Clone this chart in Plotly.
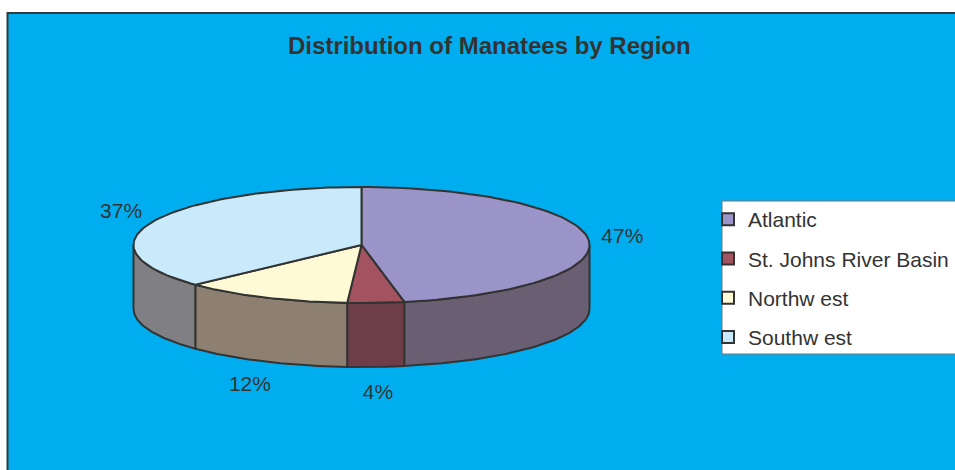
import math
import plotly.graph_objects as go

# ---- data ----
regions = ["Atlantic", "St. Johns River Basin", "Northw est", "Southw est"]
shares = [47, 4, 12, 37]
labels = ["47%", "4%", "12%", "37%"]
top_colors = ["#9A94C8", "#A3535F", "#FFFAD6", "#C8EAFA"]
side_colors = ["#6A5E72", "#6E3E48", "#8D8070", "#808084"]
title = "Distribution of Manatees by Region"

# ---- geometry of the 3-D pie (pixel space) ----
cx, cy, rx, ry, depth = 361.5, 245.0, 228.0, 58.0, 64.0
EDGE = "#333333"
FONT = "Liberation Sans, Arial, sans-serif"


def pt(theta, dy=0.0):
    t = math.radians(theta)
    return cx + rx * math.sin(t), cy - ry * math.cos(t) + dy


def arc(a, b, dy=0.0, n=80):
    xs, ys = [], []
    for i in range(n + 1):
        x, y = pt(a + (b - a) * i / n, dy)
        xs.append(x)
        ys.append(y)
    return xs, ys


total = sum(shares)
starts, ends = [], []
acc = 0.0
for v in shares:
    starts.append(acc / total * 360)
    acc += v
    ends.append(acc / total * 360)

fig = go.Figure()

# side walls (front half only)
for i in range(len(shares)):
    lo, hi = max(starts[i], 90), min(ends[i], 270)
    if lo < hi:
        tx, ty = arc(lo, hi)
        bx, by = arc(hi, lo, depth)
        fig.add_trace(go.Scatter(
            x=tx + bx + [tx[0]], y=ty + by + [ty[0]], mode="lines", fill="toself",
            fillcolor=side_colors[i], line=dict(color=EDGE, width=2),
            showlegend=False, hoverinfo="skip"))

# top faces
for i in range(len(shares)):
    ax_, ay_ = arc(starts[i], ends[i])
    fig.add_trace(go.Scatter(
        x=[cx] + ax_ + [cx], y=[cy] + ay_ + [cy], mode="lines", fill="toself",
        fillcolor=top_colors[i], line=dict(color=EDGE, width=2),
        showlegend=False, hoverinfo="skip"))

# percentage labels
Rl, Ryl = 262.0, 83.0
lx, ly = [], []
for i in range(len(shares)):
    m = math.radians((starts[i] + ends[i]) / 2)
    lx.append(cx + Rl * math.sin(m))
    c = math.cos(m)
    ly.append(cy - Ryl * c + (depth + 2 if c < 0 else 1))
fig.add_trace(go.Scatter(x=lx, y=ly, mode="text", text=labels,
                         textfont=dict(family=FONT, size=21, color="#333333"),
                         showlegend=False, hoverinfo="skip"))

# legend entries
for i, name in enumerate(regions):
    fig.add_trace(go.Scatter(
        x=[None], y=[None], mode="markers", name=name, legendgroup=name,
        marker=dict(symbol="square", size=11, color=top_colors[i],
                    line=dict(color=EDGE, width=1.5))))

fig.update_layout(
    width=955, height=470,
    margin=dict(l=0, r=0, t=0, b=0),
    paper_bgcolor="white", plot_bgcolor="rgba(0,0,0,0)",
    xaxis=dict(range=[0, 955], visible=False, fixedrange=True),
    yaxis=dict(range=[470, 0], visible=False, fixedrange=True),
    showlegend=True,
    legend=dict(x=708 / 955, y=1 - 199 / 470, xanchor="left", yanchor="top",
                bgcolor="rgba(0,0,0,0)", borderwidth=0,
                font=dict(family=FONT, size=21, color="#333333"),
                tracegroupgap=9, itemsizing="constant"),
    shapes=[
        dict(type="rect", xref="x", yref="y", x0=7.5, y0=13, x1=975, y1=490,
             fillcolor="#00AEEF", line=dict(color="#2E3B40", width=2), layer="below"),
        dict(type="rect", xref="x", yref="y", x0=722, y0=201, x1=975, y1=354,
             fillcolor="white", line=dict(color="#777777", width=1), layer="below"),
    ],
    annotations=[dict(text="<b>" + title + "</b>", x=489, y=45, xref="x", yref="y",
                      showarrow=False, font=dict(family=FONT, size=24, color="#333333"))],
)

fig.write_html("out.html")
